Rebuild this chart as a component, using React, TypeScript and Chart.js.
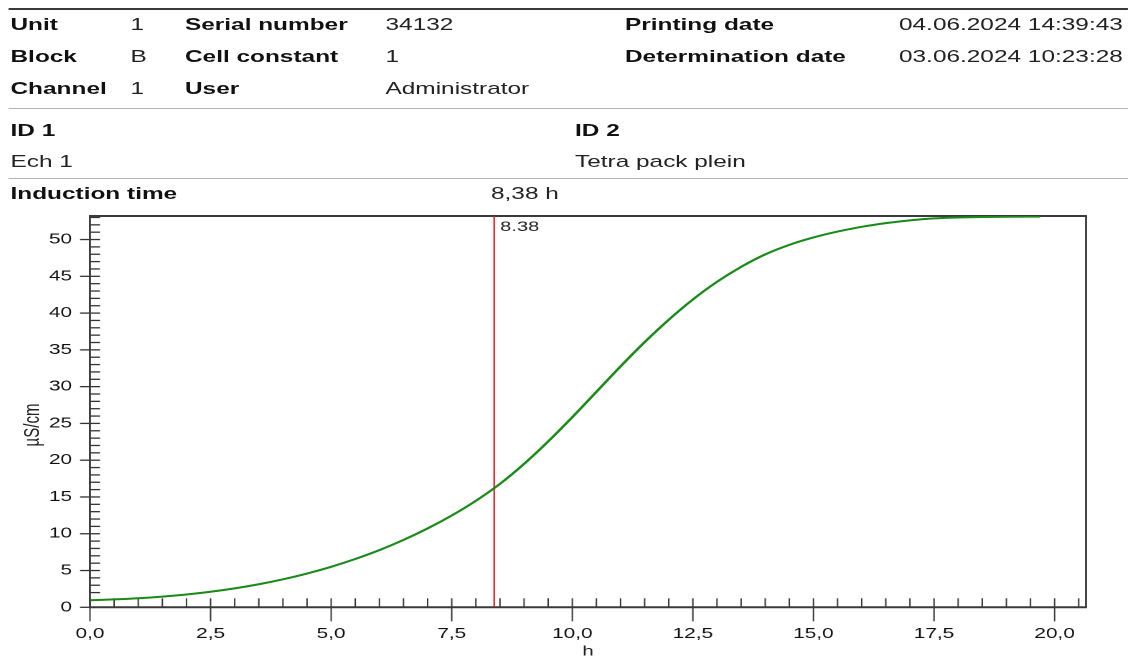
import React, { useEffect, useRef } from 'react';
import { Chart, registerables } from 'chart.js';

Chart.register(...registerables);

// ---- data ----
const hours = [0, 0.5, 1, 1.5, 2, 2.5, 3, 3.5, 4, 4.5, 5, 5.5, 6, 6.5, 7, 7.5, 8, 8.5, 9, 9.5, 10, 10.5, 11, 11.5, 12, 12.5, 13, 13.5, 14, 14.5, 15, 15.5, 16, 16.5, 17, 17.5, 18, 18.5, 19, 19.5, 19.7];
const conductivity = [0.95, 1.07, 1.23, 1.45, 1.74, 2.11, 2.57, 3.13, 3.8, 4.59, 5.51, 6.57, 7.78, 9.16, 10.72, 12.48, 14.48, 16.78, 19.5, 22.55, 25.85, 29.3, 32.75, 36.05, 39.1, 41.85, 44.25, 46.28, 47.98, 49.28, 50.28, 51.08, 51.73, 52.23, 52.61, 52.88, 53.0, 53.07, 53.1, 53.11, 53.11];
const inductionTime = 8.38;
const inductionLabel = '8.38';
const xTickValues = [0, 2.5, 5, 7.5, 10, 12.5, 15, 17.5, 20];
const xTickLabels = ['0,0', '2,5', '5,0', '7,5', '10,0', '12,5', '15,0', '17,5', '20,0'];
const yTickValues = [0, 5, 10, 15, 20, 25, 30, 35, 40, 45, 50];
const yTickLabels = ['0', '5', '10', '15', '20', '25', '30', '35', '40', '45', '50'];
const xMin = 0;
const xMax = 20.65;
const yMin = 0;
const yMax = 53.2;
const xTitle = 'h';
const yTitle = 'µS/cm';

const labelsCol1 = ['Unit', 'Block', 'Channel'];
const valuesCol1 = ['1', 'B', '1'];
const labelsCol2 = ['Serial number', 'Cell constant', 'User'];
const valuesCol2 = ['34132', '1', 'Administrator'];
const labelsCol3 = ['Printing date', 'Determination date'];
const valuesCol3 = ['04.06.2024 14:39:43', '03.06.2024 10:23:28'];
const idLabels = ['ID 1', 'ID 2'];
const idValues = ['Ech 1', 'Tetra pack plein'];
const inductionTitle = 'Induction time';
const inductionValue = '8,38 h';

// ---- layout ----
const S = 1.435; // horizontal stretch of the original
const W = 1134 / S;
const FS = 17;
const FONT = '"Liberation Sans", Arial, Helvetica, sans-serif';
Chart.defaults.font.family = FONT;

const rowBase = [30.5, 62.5, 94];

function Txt(props: { x: number; base: number; bold?: boolean; children: any }) {
  const { x, base, bold, children } = props;
  return (
    <div
      style={{
        position: 'absolute',
        left: x / S,
        top: base - 0.8465 * FS,
        fontSize: FS,
        lineHeight: `${FS}px`,
        fontWeight: bold ? 700 : 400,
        whiteSpace: 'nowrap',
        color: bold ? '#111' : '#222',
        fontFamily: FONT,
      }}
    >
      {children}
    </div>
  );
}

function HLine(props: { y: number; h: number; color: string }) {
  return (
    <div
      style={{
        position: 'absolute',
        left: 8 / S,
        width: (1128 - 8) / S,
        top: props.y,
        height: props.h,
        background: props.color,
      }}
    />
  );
}

const framePlugin = {
  id: 'frameTicks',
  beforeDatasetsDraw(chart: any) {
    const { ctx, chartArea: a, scales } = chart;
    const x = scales.x;
    const y = scales.y;
    ctx.save();
    ctx.strokeStyle = '#333';
    // y ticks (horizontal marks)
    ctx.lineWidth = 1.3;
    for (let v = 0; v <= 53; v += 1) {
      const py = y.getPixelForValue(v);
      ctx.beginPath();
      ctx.moveTo(a.left - (v % 5 === 0 ? 10 / S : 0), py);
      ctx.lineTo(a.left + 10 / S, py);
      ctx.stroke();
    }
    // x ticks (vertical marks)
    ctx.lineWidth = 1.4 / S;
    for (let i = 0; i * 0.5 < xMax; i++) {
      const t = i * 0.5;
      const px = x.getPixelForValue(t);
      const major = i % 5 === 0;
      ctx.beginPath();
      ctx.moveTo(px, a.bottom + (major ? 14 : 0));
      ctx.lineTo(px, a.bottom - 9);
      ctx.stroke();
    }
    // frame
    ctx.strokeStyle = '#3a3a3a';
    ctx.lineWidth = 2;
    ctx.beginPath();
    ctx.moveTo(a.left - 1 / S, a.top);
    ctx.lineTo(a.right + 1 / S, a.top);
    ctx.moveTo(a.left - 1 / S, a.bottom);
    ctx.lineTo(a.right + 1 / S, a.bottom);
    ctx.stroke();
    ctx.lineWidth = 2 / S;
    ctx.beginPath();
    ctx.moveTo(a.left, a.top);
    ctx.lineTo(a.left, a.bottom);
    ctx.moveTo(a.right, a.top);
    ctx.lineTo(a.right, a.bottom);
    ctx.stroke();
    ctx.restore();
  },
  afterDatasetsDraw(chart: any) {
    const { ctx, chartArea: a, scales } = chart;
    const px = scales.x.getPixelForValue(inductionTime);
    ctx.save();
    ctx.font = `14px ${FONT}`;
    ctx.fillStyle = '#222';
    ctx.textBaseline = 'middle';
    ctx.textAlign = 'left';
    ctx.fillText(inductionLabel, px + 6 / S, a.top + 11);
    ctx.restore();
  },
};

export default function App() {
  const ref = useRef<HTMLCanvasElement | null>(null);

  useEffect(() => {
    if (!ref.current) return;
    const chart = new Chart(ref.current, {
      type: 'line',
      data: {
        datasets: [
          {
            data: hours.map((h, i) => ({ x: h, y: conductivity[i] })),
            borderColor: '#178a17',
            borderWidth: 2,
            pointRadius: 0,
            fill: false,
            cubicInterpolationMode: 'monotone',
          },
          {
            data: [
              { x: inductionTime, y: yMin },
              { x: inductionTime, y: yMax },
            ],
            borderColor: '#ee1111',
            borderWidth: 1.6 / S,
            pointRadius: 0,
            fill: false,
          },
        ],
      } as any,
      options: {
        animation: false,
        responsive: true,
        maintainAspectRatio: false,
        devicePixelRatio: 2,
        layout: { padding: { left: 0, top: 216, right: W - 1086 / S, bottom: 0 } },
        plugins: { legend: { display: false }, tooltip: { enabled: false } },
        scales: {
          x: {
            type: 'linear',
            min: xMin,
            max: xMax,
            grid: { display: false, drawTicks: false },
            border: { display: false },
            afterBuildTicks: (s: any) => {
              s.ticks = xTickValues.map((v) => ({ value: v }));
            },
            afterFit: (s: any) => {
              s.height = 656 - 607.3;
            },
            ticks: {
              autoSkip: false,
              maxRotation: 0,
              padding: 18,
              color: '#111',
              font: { size: 14.5 },
              callback: (_v: any, i: number) => xTickLabels[i],
            },
            title: {
              display: true,
              text: xTitle,
              color: '#222',
              font: { size: 14 },
              padding: { top: 0, bottom: -4 },
            },
          },
          y: {
            type: 'linear',
            min: yMin,
            max: yMax,
            grid: { display: false, drawTicks: false },
            border: { display: false },
            afterBuildTicks: (s: any) => {
              s.ticks = yTickValues.map((v) => ({ value: v }));
            },
            afterFit: (s: any) => {
              s.width = 90 / S;
            },
            ticks: {
              autoSkip: false,
              padding: 12.5,
              color: '#111',
              font: { size: 14.5 },
              callback: (_v: any, i: number) => yTickLabels[i],
            },
            title: { display: false, text: yTitle },
          },
        },
      } as any,
      plugins: [framePlugin],
    });
    return () => chart.destroy();
  }, []);

  return (
    <div
      style={{
        position: 'absolute',
        left: 0,
        top: 0,
        width: W,
        height: 656,
        transform: `scaleX(${S})`,
        transformOrigin: '0 0',
        overflow: 'hidden',
        background: '#fff',
      }}
    >
      <div style={{ position: 'absolute', left: 0, top: 0, width: W, height: 656 }}>
        <canvas ref={ref} />
      </div>
      <div
        style={{
          position: 'absolute',
          left: 31 / S - 30,
          top: 425 - 10,
          width: 60,
          height: 20,
          lineHeight: '20px',
          textAlign: 'center',
          fontFamily: FONT,
          fontSize: 15,
          color: '#222',
          transform: 'rotate(-90deg)',
          transformOrigin: '50% 50%',
          whiteSpace: 'nowrap',
        }}
      >
        {yTitle}
      </div>
      <HLine y={7.5} h={2} color="#3a3a3a" />
      {labelsCol1.map((t, i) => (
        <Txt key={'l1' + i} x={10.5} base={rowBase[i]} bold>{t}</Txt>
      ))}
      {valuesCol1.map((t, i) => (
        <Txt key={'v1' + i} x={130.5} base={rowBase[i]}>{t}</Txt>
      ))}
      {labelsCol2.map((t, i) => (
        <Txt key={'l2' + i} x={185} base={rowBase[i]} bold>{t}</Txt>
      ))}
      {valuesCol2.map((t, i) => (
        <Txt key={'v2' + i} x={385.5} base={rowBase[i]}>{t}</Txt>
      ))}
      {labelsCol3.map((t, i) => (
        <Txt key={'l3' + i} x={625} base={rowBase[i]} bold>{t}</Txt>
      ))}
      {valuesCol3.map((t, i) => (
        <Txt key={'v3' + i} x={899} base={rowBase[i]}>{t}</Txt>
      ))}
      <HLine y={107.5} h={1.6} color="#b4b4b4" />
      <Txt x={10.5} base={136} bold>{idLabels[0]}</Txt>
      <Txt x={575} base={136} bold>{idLabels[1]}</Txt>
      <Txt x={10.5} base={167.5}>{idValues[0]}</Txt>
      <Txt x={575} base={167.5}>{idValues[1]}</Txt>
      <HLine y={177.5} h={1.6} color="#b4b4b4" />
      <Txt x={10.5} base={199.5} bold>{inductionTitle}</Txt>
      <Txt x={491} base={199}>{inductionValue}</Txt>
    </div>
  );
}
